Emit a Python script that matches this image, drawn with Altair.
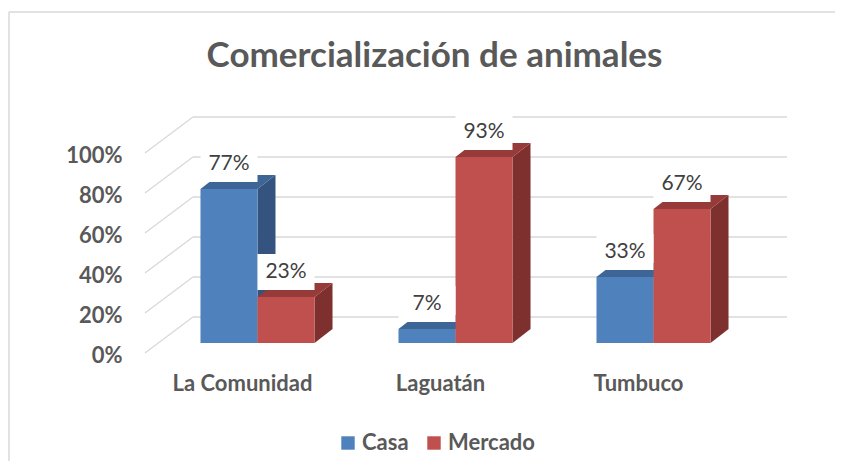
import altair as alt
import pandas as pd

# ---------------- data ----------------
title_text = "Comercialización de animales"
categories = ["La Comunidad", "Laguatán", "Tumbuco"]
series = ["Casa", "Mercado"]
casa = [0.77, 0.07, 0.33]
mercado = [0.23, 0.93, 0.67]
y_ticks = [0, 0.2, 0.4, 0.6, 0.8, 1.0]

front_colors = ["#4F81BD", "#C0504D"]
side_colors = ["#34547f", "#7e302e"]
top_colors = ["#3d6596", "#963b39"]

# ---------------- geometry (scale units) ----------------
X_DOMAIN = [-0.5682, 2.6742]
Y_DOMAIN = [0, 1.18]
BAR_W = 0.288
DEPTH_X = 0.0909
DEPTH_Y = 0.07
BAR_BASE = 0.05
BACK_X = 0.2424
BACK_Y = 0.18
LABEL_UP = 0.125
CAT_SHIFT = -0.0758
BOX_PX = 57
FONT = "Lato"
GREY = "#595959"

values = {"Casa": casa, "Mercado": mercado}

bars, sides, tops = [], [], []
for j, s in enumerate(series):
    for i, cat in enumerate(categories):
        v = values[s][i]
        xl = i - BAR_W if j == 0 else i
        xr = xl + BAR_W
        top = BAR_BASE + v
        bid = f"{cat}-{s}"
        bars.append(dict(bar=bid, series=s, category=cat, value=v, xl=xl, xr=xr,
                         xc=(xl + xr) / 2, base=BAR_BASE, top=top, ylab=top + LABEL_UP))
        sides.append(dict(bar=bid, series=s, x=xr, lo=BAR_BASE, hi=top))
        sides.append(dict(bar=bid, series=s, x=xr + DEPTH_X, lo=BAR_BASE + DEPTH_Y, hi=top + DEPTH_Y))
        tops.append(dict(bar=bid, series=s, y=top, xa=xl, xb=xr))
        tops.append(dict(bar=bid, series=s, y=top + DEPTH_Y, xa=xl + DEPTH_X, xb=xr + DEPTH_X))

bars_df = pd.DataFrame(bars)
sides_df = pd.DataFrame(sides)
tops_df = pd.DataFrame(tops)

grid_df = pd.DataFrame({
    "v": y_ticks,
    "vb": [t + BACK_Y for t in y_ticks],
    "x0": [X_DOMAIN[0]] * len(y_ticks),
    "xb": [X_DOMAIN[0] + BACK_X] * len(y_ticks),
    "x1": [X_DOMAIN[1]] * len(y_ticks),
})
cat_df = pd.DataFrame({"category": categories,
                       "x": [i + CAT_SHIFT for i in range(len(categories))],
                       "y": [0] * len(categories)})
title_df = pd.DataFrame({"t": [title_text]})

xs = alt.Scale(domain=X_DOMAIN, nice=False, zero=False)
ys = alt.Scale(domain=Y_DOMAIN, nice=False, zero=False)

y_axis = alt.Axis(values=y_ticks, format=".0%", labelOffset=2, labelPadding=23,
                  domain=False, ticks=False, grid=False, title=None,
                  labelFont=FONT, labelFontSize=22, labelFontWeight="bold",
                  labelColor=GREY)


def X(f):
    return alt.X(f"{f}:Q", scale=xs, axis=None, stack=False)


def Y(f):
    return alt.Y(f"{f}:Q", scale=ys, axis=y_axis, stack=False)


grid_color = "#d9d9d9"
diag = alt.Chart(grid_df).mark_rule(color=grid_color, strokeWidth=1.3).encode(
    x=X("x0"), x2=alt.X2("xb:Q"), y=Y("v"), y2=alt.Y2("vb:Q"))
back = alt.Chart(grid_df).mark_rule(color=grid_color, strokeWidth=1.3).encode(
    x=X("xb"), x2=alt.X2("x1:Q"), y=Y("vb"))

layers = [diag, back]
color_enc = alt.Color("series:N", scale=alt.Scale(domain=series, range=front_colors),
                      legend=alt.Legend(title=None, orient="none", direction="horizontal",
                                        legendX=192, legendY=315, symbolType="square",
                                        symbolSize=180, symbolStrokeWidth=0,
                                        symbolOpacity=1, labelFont=FONT,
                                        labelFontSize=22, labelFontWeight="bold",
                                        labelColor=GREY, columnPadding=14,
                                        labelOffset=3, padding=0))
for j, s in enumerate(series):
    side = alt.Chart(sides_df[sides_df.series == s]).mark_area(
        color=side_colors[j], orient="vertical", opacity=1).encode(
        x=X("x"), y=Y("hi"), y2=alt.Y2("lo:Q"), detail="bar:N")
    topf = alt.Chart(tops_df[tops_df.series == s]).mark_area(
        color=top_colors[j], orient="horizontal", opacity=1).encode(
        y=Y("y"), x=X("xa"), x2=alt.X2("xb:Q"), detail="bar:N")
    front = alt.Chart(bars_df[bars_df.series == s]).mark_rect(opacity=1).encode(
        x=X("xl"), x2=alt.X2("xr:Q"), y=Y("base"), y2=alt.Y2("top:Q"), color=color_enc)
    layers += [side, topf, front]

box_path = "M-1,-0.63L1,-0.63L1,0.63L-1,0.63Z"
boxes = alt.Chart(bars_df).mark_point(shape=box_path, size=BOX_PX ** 2, filled=True,
                                      color="white", opacity=1, strokeWidth=0).encode(
    x=X("xc"), y=Y("ylab"))
labels = alt.Chart(bars_df).mark_text(font=FONT, fontSize=21, color="#404040",
                                      baseline="middle", align="center").encode(
    x=X("xc"), y=Y("ylab"), text=alt.Text("value:Q", format=".0%"))
cats = alt.Chart(cat_df).mark_text(font=FONT, fontSize=22, fontWeight="bold", color=GREY,
                                   baseline="middle", align="center", yOffset=31).encode(
    x=X("x"), y=Y("y"), text="category:N")

title = alt.Chart(title_df).mark_text(font=FONT, fontSize=35, fontWeight="bold", color=GREY,
                                      baseline="alphabetic", align="center").encode(
    x=alt.value(289.5), y=alt.value(-50), text="t:N")

# outer frame of the chart: left and top edges only
frame_left = alt.Chart(title_df).mark_rule(stroke=grid_color, strokeWidth=1.5).encode(
    x=alt.value(-136), y=alt.value(-105), y2=alt.value(350))
frame_top = alt.Chart(title_df).mark_rule(stroke=grid_color, strokeWidth=1.5).encode(
    x=alt.value(-136), x2=alt.value(690), y=alt.value(-105))

layers += [boxes, labels, cats, title, frame_left, frame_top]

chart = alt.layer(*layers).properties(
    width=642, height=236,
    autosize=alt.AutoSizeParams(type="none"),
    padding={"left": 137, "top": 109, "right": 54, "bottom": 108},
).configure_view(strokeWidth=0)

chart.save("out.html", embed_options={"renderer": "svg", "actions": False})
